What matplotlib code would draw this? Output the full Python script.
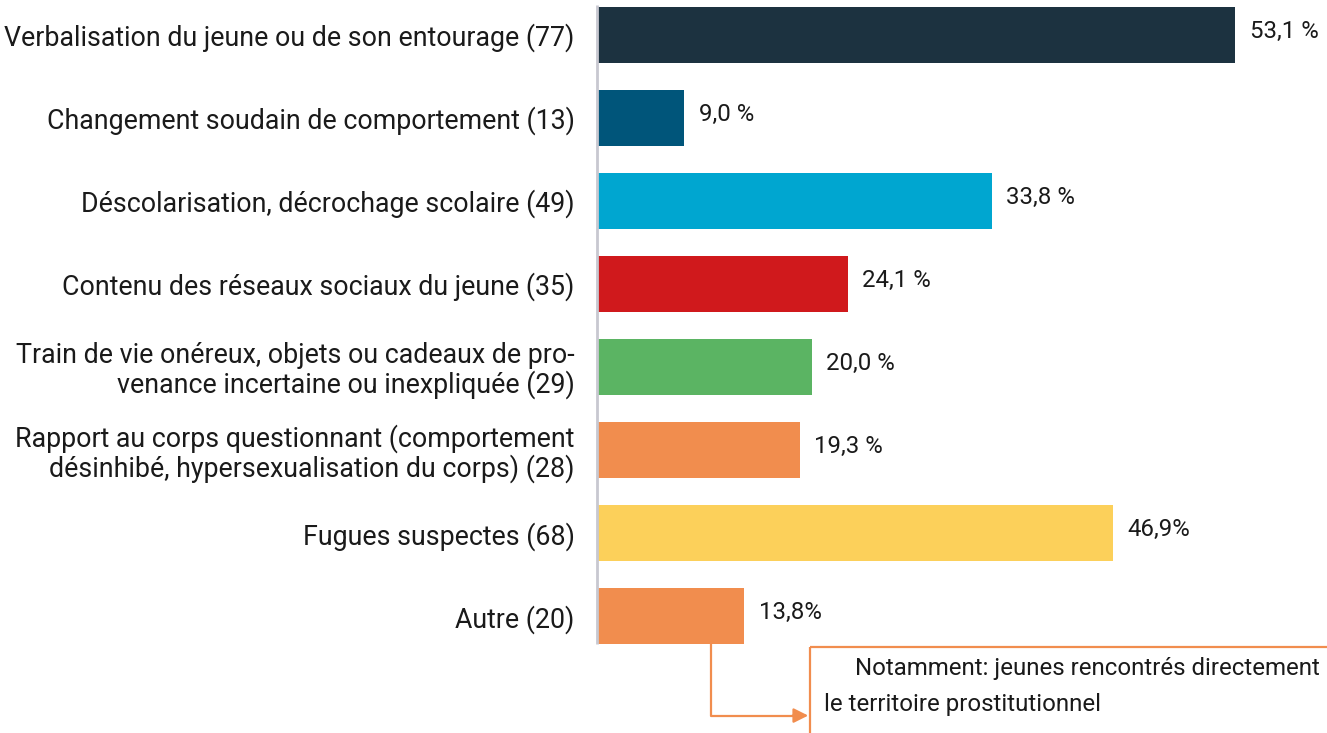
import matplotlib
matplotlib.use("Agg")
import matplotlib.pyplot as plt
from matplotlib.patches import Rectangle
import numpy as np

plt.rcParams['font.family'] = ['Roboto', 'DejaVu Sans']

categories = [
    "Verbalisation du jeune ou de son entourage (77)",
    "Changement soudain de comportement (13)",
    "Déscolarisation, décrochage scolaire (49)",
    "Contenu des réseaux sociaux du jeune (35)",
    "Train de vie onéreux, objets ou cadeaux de pro-\nvenance incertaine ou inexpliquée (29)",
    "Rapport au corps questionnant (comportement\ndésinhibé, hypersexualisation du corps) (28)",
    "Fugues suspectes (68)",
    "Autre (20)",
]
# bar lengths as drawn in the source (not strictly proportional to the labels)
bar_len = [53.1, 7.2, 32.8, 20.8, 17.8, 16.8, 42.9, 12.2]
value_labels = ["53,1 %", "9,0 %", "33,8 %", "24,1 %", "20,0 %", "19,3 %", "46,9%", "13,8%"]
colors = ["#1c3240", "#00557a", "#00a6d0", "#d0191c", "#5bb463", "#f18d4e", "#fcd05a", "#f18d4e"]

note_line1 = "Notamment: jeunes rencontrés directement sur"
note_line2 = "le territoire prostitutionnel"

fig = plt.figure(figsize=(13.27, 7.33), dpi=100)
ax = fig.add_axes([597 / 1327, 0, 730 / 1327, 1])

y = np.arange(len(categories))
ax.barh(y, bar_len, height=0.675, color=colors, left=0.08)

for yi, v, lab in zip(y, bar_len, value_labels):
    ax.text(v + 1.3, yi - 0.04, lab, va='center', ha='left', fontsize=17.3, color='#1a1a1a')

ax.set_xlim(0, 730 / 12)
ax.set_ylim(8.41, -0.42)

ax.set_yticks(y)
ax.set_yticklabels(categories, fontsize=19.3, color='#1a1a1a', linespacing=1.05)
ax.tick_params(axis='y', length=0, pad=16)
ax.set_xticks([])
for s in ax.spines.values():
    s.set_visible(False)

# left axis line
ax.plot([0, 0], [-0.36, 7.34], color='#c8c8d0', lw=2, solid_capstyle='butt', clip_on=False)

# note box and connector
orange = "#f18d4e"
ax.add_patch(Rectangle((17.75, 7.37), 60, 3, fill=False, edgecolor=orange, lw=1.6))
ax.plot([9.5, 9.5, 16.5], [7.34, 8.2, 8.2], color=orange, lw=1.6, solid_capstyle='butt')
ax.annotate('', xy=(17.6, 8.2), xytext=(16.3, 8.2),
            arrowprops=dict(arrowstyle='-|>', color=orange, lw=1.6, mutation_scale=22, shrinkA=0, shrinkB=0))
ax.text(21.5, 7.63, note_line1, va='center', ha='left', fontsize=17.3, color='#1a1a1a', clip_on=True)
ax.text(18.9, 8.07, note_line2, va='center', ha='left', fontsize=17.3, color='#1a1a1a', clip_on=True)

fig.savefig("out.png", dpi=100)
